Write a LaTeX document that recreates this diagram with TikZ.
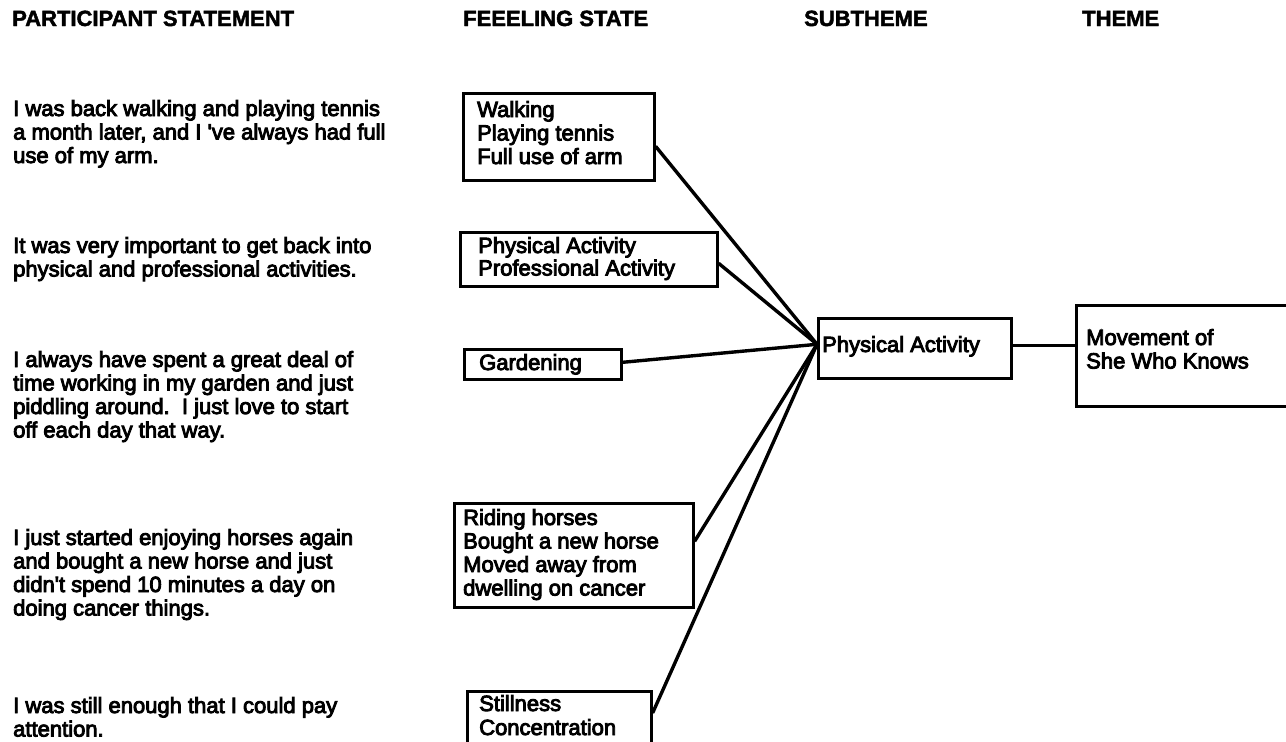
\documentclass[tikz,border=0pt]{standalone}
\usepackage{fontspec}
\setmainfont{Liberation Sans}
\newfontfamily\stf{Liberation Sans}[FakeBold=4]
\newfontfamily\hdf{Liberation Sans Bold}[FakeBold=2]
\usetikzlibrary{calc}
\tikzset{
  txt/.style={anchor=base west, inner sep=0pt, font=\stf\fontsize{22}{23.5}\selectfont},
  hdr/.style={anchor=base west, inner sep=0pt, font=\hdf\fontsize{22}{24}\selectfont},
  box/.style={draw, line width=2.6pt, inner sep=0pt, anchor=north west},
  link/.style={line width=3.4pt}
}
\begin{document}
\begin{tikzpicture}[x=1pt,y=-1pt]
\fill[white] (0,0) rectangle (1286,742);
\useasboundingbox (0,0) rectangle (1286,742);
% headers
\node[hdr] (h1) at (12,26) {PARTICIPANT STATEMENT};
\node[hdr] (h2) at (463,26) {FEEELING STATE};
\node[hdr] (h3) at (804,26) {SUBTHEME};
\node[hdr] (h4) at (1082,26) {THEME};
% statements
\node[txt] (s1) at (13,116) {\vtop{\hbox{I was back walking and playing tennis}\hbox{a month later, and I 've always had full}\hbox{use of my arm.}}};
\node[txt] (s2) at (13,253) {\vtop{\hbox{It was very important to get back into}\hbox{physical and professional activities.}}};
\node[txt] (s3) at (13,367) {\vtop{\hbox{I always have spent a great deal of}\hbox{time working in my garden and just}\hbox{piddling around.\ \ I just love to start}\hbox{off each day that way.}}};
\node[txt] (s4) at (13,545) {\vtop{\hbox{I just started enjoying horses again}\hbox{and bought a new horse and just}\hbox{didn't spend 10 minutes a day on}\hbox{doing cancer things.}}};
\node[txt] (s5) at (13,713) {\vtop{\hbox{I was still enough that I could pay}\hbox{attention.}}};
% feeling state boxes
\node[box, minimum width=191pt, minimum height=87pt] (b1) at (462,92) {};
\node[txt] (t1) at (477,117) {\vtop{\hbox{Walking}\hbox{Playing tennis}\hbox{Full use of arm}}};
\node[box, minimum width=257pt, minimum height=54pt] (b2) at (459,231) {};
\node[txt] (t2) at (478,253) {\vtop{\baselineskip=22.5pt\hbox{Physical Activity}\hbox{Professional Activity}}};
\node[box, minimum width=157pt, minimum height=30pt] (b3) at (463,348) {};
\node[txt] (t3) at (479,370) {Gardening};
\node[box, minimum width=239pt, minimum height=104pt] (b4) at (453,502) {};
\node[txt] (t4) at (463,525) {\vtop{\hbox{Riding horses}\hbox{Bought a new horse}\hbox{Moved away from}\hbox{dwelling on cancer}}};
\node[box, minimum width=184pt, minimum height=62pt] (b5) at (466,690) {};
\node[txt] (t5) at (479,711) {\vtop{\baselineskip=24pt\hbox{Stillness}\hbox{Concentration}}};
% subtheme and theme
\node[box, minimum width=193pt, minimum height=60pt] (sub) at (817,317) {};
\node[txt] (ts) at (822,352) {Physical Activity};
\node[box, minimum width=240pt, minimum height=101pt] (theme) at (1075,304) {};
\node[txt] (tt) at (1086,345) {\vtop{\hbox{Movement of}\hbox{She Who Knows}}};
% connectors
\coordinate (hub) at ([yshift=4pt]sub.west);
\draw[link] ([yshift=-9.5pt]b1.east) -- (hub);
\draw[link] ([yshift=-4pt]b2.east) -- (hub);
\draw[link] ([yshift=2pt]b3.east) -- (hub);
\draw[link] ([yshift=14pt]b4.east) -- (hub);
\draw[link] ([yshift=-23pt]b5.north east) -- (hub);
\coordinate (sj) at ([yshift=3pt]sub.east);
\draw[link] (sj) -- (sj -| theme.west);
\end{tikzpicture}
\end{document}
